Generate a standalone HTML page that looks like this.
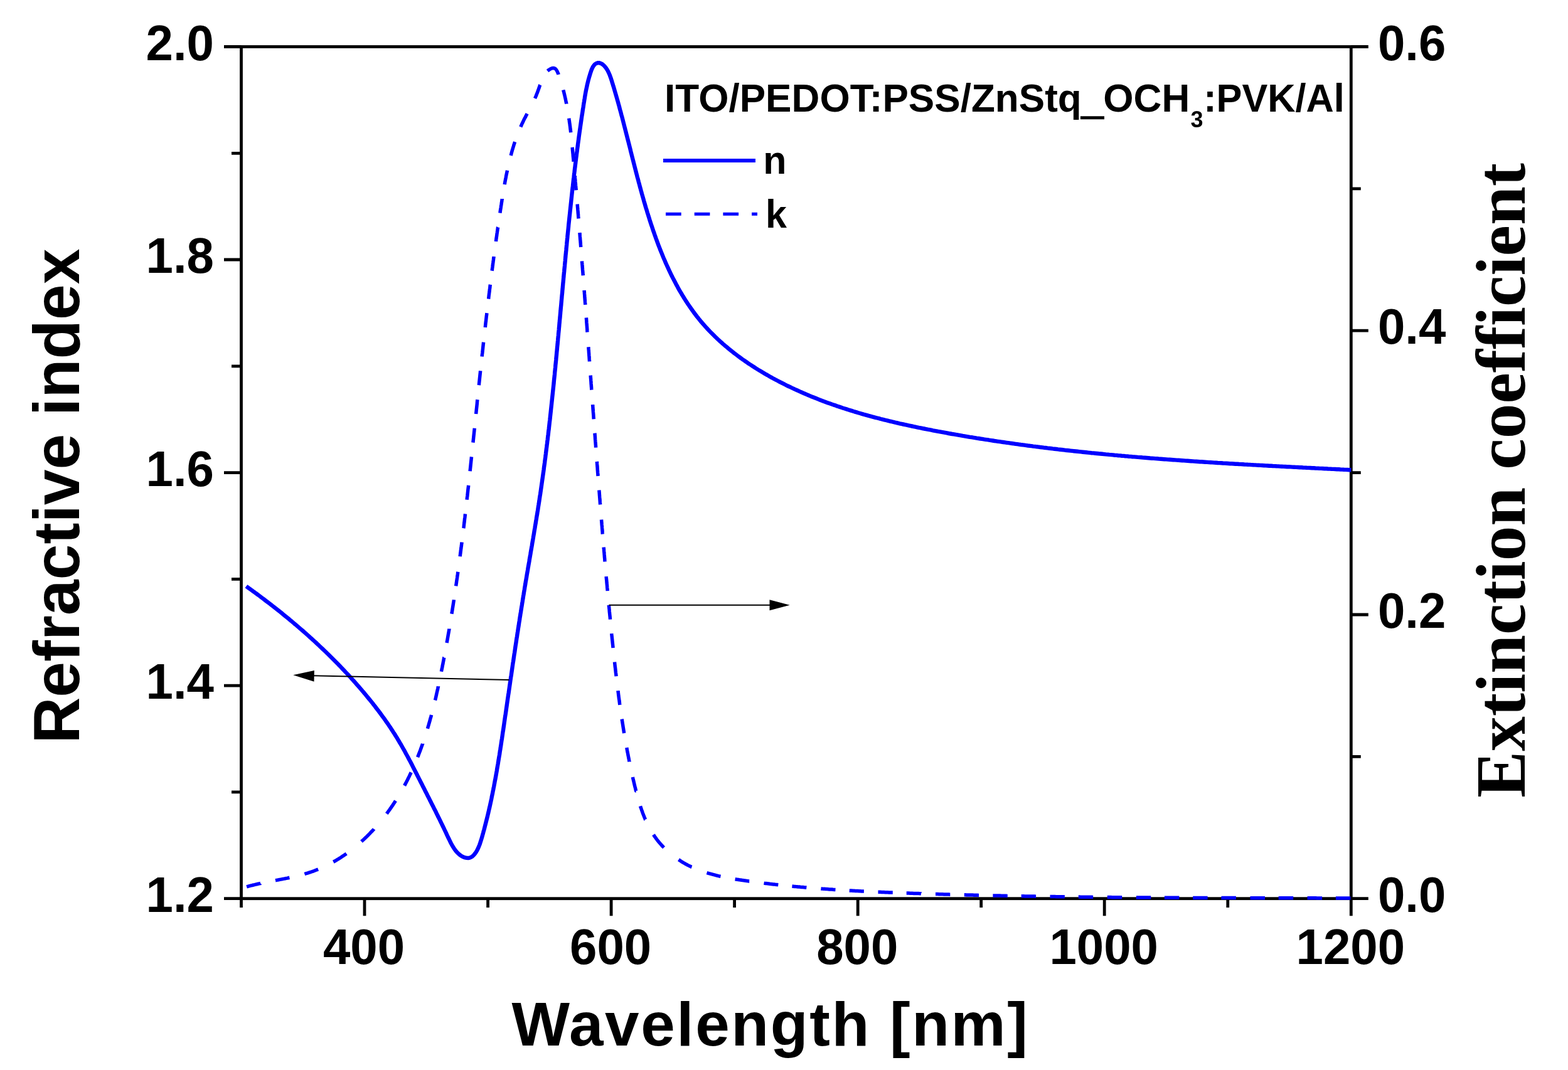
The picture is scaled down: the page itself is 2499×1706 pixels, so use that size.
<!DOCTYPE html>
<html><head><meta charset="utf-8"><title>Refractive index and extinction coefficient</title>
<style>html,body{margin:0;padding:0;background:#fff;overflow:hidden}svg{display:block}</style></head>
<body>
<svg width="2499" height="1706" viewBox="0 0 2499 1706">
<rect width="2499" height="1706" fill="#fff"/>
<g fill="none" stroke="#000" stroke-width="4.8">
<rect x="384.5" y="74.5" width="1768.8" height="1358.2"/>
<path d="M384.5 1432.7V1446.9M581.0 1432.7V1460.2M777.6 1432.7V1446.9M974.1 1432.7V1460.2M1170.6 1432.7V1446.9M1367.2 1432.7V1460.2M1563.7 1432.7V1446.9M1760.2 1432.7V1460.2M1956.8 1432.7V1446.9M2153.3 1432.7V1460.2M384.5 1432.7H357.0M384.5 1262.9H369.0M384.5 1093.2H357.0M384.5 923.4H369.0M384.5 753.6H357.0M384.5 583.8H369.0M384.5 414.0H357.0M384.5 244.3H369.0M384.5 74.5H357.0M2153.3 1432.7H2180.8M2153.3 1206.3H2168.8M2153.3 980.0H2180.8M2153.3 753.6H2168.8M2153.3 527.2H2180.8M2153.3 300.9H2168.8M2153.3 74.5H2180.8"/>
</g>
<path d="M393.1 1413.9L394.8 1413.4L396.6 1412.9L398.4 1412.4L400.3 1411.9L402.1 1411.5L403.9 1411.0L405.8 1410.6L407.6 1410.1L409.5 1409.7L411.3 1409.3L413.2 1408.9L415.1 1408.5L415.2 1408.4M439.0 1403.7L440.6 1403.4L442.3 1403.1L444.1 1402.8L445.8 1402.4L447.5 1402.1L449.3 1401.8L451.0 1401.4L452.7 1401.1L454.5 1400.8L456.2 1400.4L457.9 1400.1L459.6 1399.7L461.4 1399.3L461.4 1399.3M485.4 1393.5L487.2 1392.9L489.0 1392.4L490.9 1391.8L492.8 1391.2L494.6 1390.6L496.4 1390.0L498.3 1389.4L500.1 1388.7L501.9 1388.0L503.7 1387.3L505.5 1386.6L507.1 1386.0M531.3 1374.2L533.0 1373.3L534.6 1372.3L536.3 1371.3L537.9 1370.3L539.6 1369.3L541.2 1368.3L542.9 1367.3L544.5 1366.2L546.1 1365.1L547.7 1364.1L549.3 1363.0L550.9 1361.9L552.1 1361.0M576.0 1341.8L577.6 1340.3L579.4 1338.7L581.1 1337.1L582.7 1335.5L584.4 1333.9L586.1 1332.2L587.7 1330.6L589.4 1328.9L591.0 1327.2L592.6 1325.5L594.2 1323.8L595.8 1322.1L596.0 1321.8M616.2 1297.4L617.4 1295.8L618.7 1294.0L619.9 1292.3L621.2 1290.6L622.4 1288.8L623.6 1287.1L624.8 1285.3L626.0 1283.6L627.2 1281.8L628.4 1280.0L629.5 1278.3L630.5 1276.7M644.6 1252.6L645.4 1251.1L646.3 1249.4L647.2 1247.7L648.1 1246.0L649.0 1244.3L649.8 1242.6L650.7 1240.9L651.5 1239.2L652.4 1237.5L653.2 1235.7L654.0 1234.0L654.8 1232.3L655.2 1231.5M665.6 1207.3L666.2 1205.7L666.9 1203.9L667.6 1202.1L668.3 1200.3L669.0 1198.5L669.7 1196.7L670.3 1194.9L671.0 1193.1L671.6 1191.3L672.3 1189.5L672.9 1187.7L673.6 1185.9L673.6 1185.8M681.4 1161.7L681.9 1160.0L682.4 1158.1L683.0 1156.3L683.5 1154.4L684.1 1152.6L684.6 1150.7L685.1 1148.9L685.6 1147.0L686.1 1145.1L686.7 1143.3L687.2 1141.4L687.6 1139.8M693.5 1116.5L693.9 1114.9L694.3 1113.2L694.7 1111.5L695.1 1109.7L695.5 1108.0L695.8 1106.3L696.2 1104.6L696.6 1102.9L697.0 1101.2L697.4 1099.5L697.8 1097.8L698.1 1096.1L698.5 1094.4L698.5 1094.3M703.4 1070.8L703.7 1069.2L704.1 1067.5L704.4 1065.8L704.8 1064.1L705.1 1062.3L705.4 1060.6L705.8 1058.9L706.1 1057.2L706.4 1055.5L706.8 1053.7L707.1 1052.0L707.4 1050.3L707.7 1048.6L707.8 1048.5M712.1 1025.0L712.4 1023.3L712.7 1021.6L713.0 1019.9L713.3 1018.2L713.6 1016.5L713.9 1014.7L714.2 1013.0L714.5 1011.3L714.8 1009.6L715.1 1007.9L715.4 1006.1L715.7 1004.4L716.0 1002.7L716.0 1002.5M719.9 978.8L720.2 977.1L720.5 975.1L720.8 973.2L721.1 971.3L721.4 969.4L721.7 967.5L722.0 965.6L722.3 963.7L722.6 961.7L722.9 959.8L723.2 957.9L723.4 956.2M726.7 934.4L726.9 932.6L727.2 930.7L727.5 928.8L727.7 926.9L728.0 925.0L728.3 923.1L728.6 921.1L728.8 919.2L729.1 917.3L729.4 915.4L729.6 913.5L729.9 911.7L729.9 911.7M733.2 887.3L733.4 885.5L733.6 883.6L733.9 881.7L734.1 879.7L734.4 877.8L734.6 875.9L734.9 874.0L735.1 872.1L735.4 870.2L735.6 868.2L735.9 866.3L736.1 864.5L736.1 864.5M738.8 842.2L739.1 840.4L739.3 838.5L739.5 836.6L739.7 834.7L740.0 832.8L740.2 830.8L740.4 828.9L740.6 827.0L740.9 825.1L741.1 823.2L741.3 821.2L741.5 819.4L741.5 819.4M744.1 796.8L744.3 795.0L744.5 793.0L744.8 791.1L745.0 789.2L745.2 787.3L745.4 785.4L745.6 783.4L745.8 781.5L746.0 779.6L746.3 777.7L746.5 775.8L746.7 773.9L746.7 773.9M749.1 751.3L749.3 749.4L749.5 747.5L749.7 745.6L749.9 743.7L750.1 741.8L750.3 739.8L750.5 737.9L750.7 736.0L750.9 734.1L751.1 732.2L751.3 730.2L751.5 728.4L751.5 728.4M753.9 705.6L754.1 703.7L754.3 701.8L754.5 699.9L754.7 698.0L754.9 696.0L755.1 694.1L755.3 692.2L755.5 690.3L755.7 688.4L755.9 686.4L756.1 684.5L756.3 682.7L756.3 682.7M758.6 660.0L758.8 658.2L759.0 656.3L759.2 654.3L759.4 652.4L759.6 650.5L759.8 648.6L760.0 646.7L760.2 644.7L760.4 642.8L760.5 640.9L760.7 639.0L760.9 637.1L760.9 637.1M763.3 614.1L763.5 612.2L763.7 610.3L763.9 608.4L764.1 606.5L764.3 604.6L764.5 602.6L764.7 600.7L764.9 598.8L765.1 596.9L765.3 594.9L765.5 593.0L765.7 591.2L765.7 591.2M768.1 568.5L768.3 566.7L768.5 564.8L768.8 562.8L769.0 560.9L769.2 559.0L769.4 557.1L769.6 555.2L769.8 553.2L770.0 551.3L770.2 549.4L770.4 547.5L770.6 545.6L770.6 545.6M773.3 522.0L773.5 520.2L773.7 518.2L773.9 516.3L774.1 514.4L774.4 512.5L774.6 510.5L774.8 508.6L775.0 506.7L775.2 504.8L775.5 502.9L775.7 500.9L775.9 499.1L775.9 499.1M778.6 476.6L778.8 474.8L779.0 472.9L779.2 470.9L779.5 469.0L779.7 467.1L780.0 465.2L780.2 463.2L780.4 461.3L780.7 459.4L780.9 457.5L781.1 455.5L781.4 453.8L781.4 453.8M784.1 431.7L784.4 430.0L784.6 428.0L784.9 426.1L785.1 424.2L785.4 422.3L785.6 420.4L785.9 418.4L786.1 416.5L786.4 414.6L786.6 412.7L786.9 410.7L787.1 409.0L787.1 409.0M790.4 385.0L790.6 383.2L790.8 381.5L791.1 379.8L791.3 378.1L791.6 376.3L791.8 374.6L792.0 372.9L792.3 371.1L792.5 369.4L792.8 367.7L793.0 365.9L793.3 364.2L793.5 362.5L793.6 362.3M796.9 339.7L797.1 338.1L797.4 336.3L797.6 334.6L797.9 332.9L798.2 331.1L798.4 329.4L798.7 327.7L799.0 325.9L799.2 324.2L799.5 322.5L799.8 320.8L800.0 319.0L800.3 317.3L800.3 317.1M804.2 294.1L804.5 292.2L804.8 290.3L805.2 288.4L805.5 286.5L805.9 284.6L806.3 282.7L806.6 280.8L807.0 278.9L807.4 277.0L807.8 275.1L808.2 273.2L808.5 271.7M814.1 248.0L814.6 246.3L815.1 244.4L815.6 242.6L816.1 240.8L816.6 238.9L817.2 237.1L817.7 235.3L818.3 233.5L818.8 231.6L819.4 229.8L820.0 228.0L820.6 226.2L820.6 226.2M829.8 202.4L830.5 200.7L831.3 199.0L832.0 197.3L832.9 195.6L833.7 193.8L834.5 192.1L835.3 190.4L836.2 188.7L837.1 187.1L838.0 185.4L838.8 183.7L839.7 182.0L840.1 181.2M852.5 156.8L853.2 155.3L854.0 153.6L854.7 151.9L855.4 150.1L856.1 148.4L856.8 146.6L857.4 144.8L858.1 143.0L858.7 141.2L859.4 139.3L860.0 137.5L860.6 135.7L860.8 135.3M872.6 113.2L874.1 111.9L875.9 110.7L877.8 109.6L879.8 108.8L881.7 108.5L883.4 108.7L884.9 109.4L886.1 110.6L887.2 112.2L888.2 114.1L889.1 116.2L890.0 118.4L890.1 118.9M897.7 143.3L898.1 144.9L898.6 146.6L899.0 148.3L899.4 150.0L899.8 151.7L900.2 153.4L900.6 155.1L901.0 156.8L901.4 158.5L901.7 160.3L902.1 162.0L902.4 163.7L902.8 165.4L902.8 165.5M906.8 188.6L907.0 190.4L907.3 192.3L907.5 194.2L907.8 196.1L908.1 198.0L908.3 200.0L908.6 201.9L908.8 203.8L909.0 205.7L909.3 207.6L909.5 209.6L909.7 211.3L909.7 211.3M912.1 234.9L912.3 236.7L912.4 238.6L912.6 240.6L912.8 242.5L913.0 244.4L913.2 246.3L913.3 248.3L913.5 250.2L913.7 252.1L913.9 254.1L914.0 256.0L914.2 257.8L914.2 257.8M916.2 280.2L916.4 282.0L916.5 283.9L916.7 285.9L916.9 287.8L917.0 289.7L917.2 291.7L917.4 293.6L917.5 295.5L917.7 297.4L917.9 299.4L918.0 301.3L918.2 303.2L918.2 303.2M920.1 325.5L920.3 327.3L920.4 329.3L920.6 331.2L920.8 333.1L920.9 335.0L921.1 337.0L921.2 338.9L921.4 340.8L921.6 342.8L921.7 344.7L921.9 346.6L922.0 348.5L922.0 348.5M923.9 371.0L924.0 372.8L924.2 374.8L924.3 376.7L924.5 378.6L924.6 380.6L924.8 382.5L925.0 384.4L925.1 386.3L925.3 388.3L925.4 390.2L925.6 392.1L925.7 394.0L925.7 394.0M927.5 416.3L927.6 418.2L927.8 420.1L927.9 422.0L928.1 423.9L928.2 425.9L928.4 427.8L928.5 429.7L928.7 431.7L928.8 433.6L929.0 435.5L929.1 437.4L929.3 439.3L929.3 439.3M931.1 462.8L931.2 464.6L931.4 466.6L931.5 468.5L931.7 470.4L931.8 472.3L931.9 474.3L932.1 476.2L932.2 478.1L932.4 480.1L932.5 482.0L932.7 483.9L932.8 485.8L932.8 485.8M934.4 506.5L934.5 508.4L934.7 510.3L934.8 512.3L934.9 514.2L935.1 516.1L935.2 518.1L935.4 520.0L935.5 521.9L935.7 523.8L935.8 525.8L935.9 527.7L936.1 529.6L936.1 529.6M937.8 553.2L938.0 555.1L938.1 557.0L938.3 558.9L938.4 560.9L938.5 562.8L938.7 564.7L938.8 566.7L939.0 568.6L939.1 570.5L939.2 572.4L939.4 574.4L939.5 576.3L939.5 576.3M941.2 598.5L941.3 600.4L941.4 602.3L941.6 604.3L941.7 606.2L941.9 608.1L942.0 610.1L942.1 612.0L942.3 613.9L942.4 615.9L942.6 617.8L942.7 619.7L942.9 621.6L942.9 621.6M944.6 645.2L944.7 647.1L944.9 649.0L945.0 651.0L945.1 652.9L945.3 654.8L945.4 656.7L945.6 658.7L945.7 660.6L945.9 662.5L946.0 664.5L946.1 666.4L946.3 668.3L946.3 668.3M947.9 690.6L948.1 692.4L948.2 694.4L948.4 696.3L948.5 698.2L948.6 700.2L948.8 702.1L948.9 704.0L949.1 705.9L949.2 707.9L949.4 709.8L949.5 711.7L949.6 713.6L949.6 713.6M951.3 735.9L951.5 737.8L951.6 739.7L951.8 741.6L951.9 743.6L952.1 745.5L952.2 747.4L952.3 749.4L952.5 751.3L952.6 753.2L952.8 755.2L952.9 757.1L953.1 759.0L953.1 759.0M954.8 781.5L955.0 783.3L955.1 785.3L955.3 787.2L955.4 789.1L955.6 791.0L955.7 793.0L955.9 794.9L956.0 796.8L956.2 798.8L956.3 800.7L956.5 802.6L956.6 804.5L956.6 804.5M958.5 828.5L958.7 830.4L958.8 832.3L959.0 834.3L959.1 836.2L959.3 838.1L959.5 840.1L959.6 842.0L959.8 843.9L959.9 845.8L960.1 847.8L960.2 849.7L960.4 851.6L960.4 851.6M962.1 872.5L962.3 874.4L962.5 876.3L962.6 878.2L962.8 880.2L963.0 882.1L963.1 884.0L963.3 886.0L963.4 887.9L963.6 889.8L963.8 891.7L963.9 893.7L964.1 895.5L964.1 895.5M966.2 919.2L966.3 921.0L966.5 923.0L966.7 924.9L966.9 926.8L967.0 928.8L967.2 930.7L967.4 932.6L967.6 934.5L967.7 936.5L967.9 938.4L968.1 940.3L968.2 942.2L968.2 942.2M970.3 964.7L970.5 966.5L970.7 968.4L970.9 970.4L971.1 972.3L971.2 974.2L971.4 976.1L971.6 978.1L971.8 980.0L972.0 981.9L972.2 983.8L972.4 985.8L972.5 987.6L972.5 987.6M974.8 1010.1L974.9 1011.9L975.1 1013.9L975.3 1015.8L975.5 1017.7L975.7 1019.6L975.9 1021.5L976.1 1023.5L976.3 1025.4L976.5 1027.3L976.7 1029.2L976.9 1031.2L977.1 1033.0L977.1 1033.0M979.5 1055.5L979.7 1057.3L979.9 1059.2L980.1 1061.1L980.3 1063.0L980.6 1065.0L980.8 1066.9L981.0 1068.8L981.2 1070.7L981.4 1072.6L981.7 1074.6L981.9 1076.5L982.1 1078.3L982.1 1078.3M984.9 1101.2L985.1 1103.0L985.4 1104.9L985.6 1106.8L985.8 1108.7L986.1 1110.6L986.3 1112.5L986.6 1114.5L986.9 1116.4L987.1 1118.3L987.4 1120.2L987.6 1122.1L987.9 1123.9L987.9 1123.9M991.1 1146.4L991.4 1148.1L991.7 1150.0L992.0 1152.0L992.3 1153.9L992.6 1155.8L992.9 1157.7L993.2 1159.6L993.5 1161.5L993.8 1163.4L994.1 1165.3L994.4 1167.2L994.7 1169.0L994.7 1169.0M998.8 1192.1L999.1 1193.8L999.4 1195.5L999.7 1197.2L1000.0 1198.9L1000.4 1200.6L1000.7 1202.3L1001.0 1204.1L1001.4 1205.8L1001.7 1207.5L1002.0 1209.2L1002.4 1210.9L1002.7 1212.6L1003.1 1214.3L1003.1 1214.5M1008.4 1239.0L1008.7 1240.6L1009.1 1242.3L1009.5 1244.0L1009.9 1245.7L1010.3 1247.4L1010.7 1249.1L1011.1 1250.8L1011.5 1252.5L1011.9 1254.2L1012.4 1255.9L1012.8 1257.6L1013.2 1259.3L1013.6 1261.1L1013.7 1261.1M1020.5 1285.2L1021.0 1286.8L1021.7 1288.7L1022.3 1290.5L1022.9 1292.3L1023.6 1294.1L1024.2 1295.9L1024.9 1297.7L1025.6 1299.5L1026.3 1301.3L1027.0 1303.1L1027.8 1304.9L1028.5 1306.6L1028.6 1306.7M1041.5 1330.8L1042.5 1332.4L1043.7 1334.2L1045.0 1335.9L1046.2 1337.6L1047.5 1339.3L1048.8 1341.0L1050.1 1342.6L1051.5 1344.2L1052.9 1345.8L1054.3 1347.4L1055.8 1349.0L1057.3 1350.6L1058.1 1351.4M1081.5 1370.7L1083.1 1371.7L1084.8 1372.8L1086.4 1373.8L1088.1 1374.9L1089.8 1375.9L1091.5 1376.8L1093.2 1377.8L1094.9 1378.7L1096.6 1379.6L1098.4 1380.5L1100.1 1381.3L1101.9 1382.2L1102.5 1382.4M1126.5 1391.6L1128.2 1392.1L1130.1 1392.7L1131.9 1393.2L1133.8 1393.7L1135.6 1394.2L1137.5 1394.7L1139.4 1395.2L1141.3 1395.7L1143.2 1396.1L1145.0 1396.6L1146.9 1397.0L1148.5 1397.3M1171.6 1401.7L1173.3 1402.0L1175.0 1402.2L1176.7 1402.5L1178.4 1402.8L1180.2 1403.0L1181.9 1403.3L1183.6 1403.6L1185.4 1403.8L1187.1 1404.1L1188.8 1404.3L1190.5 1404.6L1192.3 1404.8L1194.0 1405.1L1194.2 1405.1M1217.5 1408.1L1219.3 1408.4L1221.2 1408.6L1223.2 1408.8L1225.1 1409.0L1227.0 1409.3L1228.9 1409.5L1230.8 1409.7L1232.8 1409.9L1234.7 1410.1L1236.6 1410.4L1238.5 1410.6L1240.3 1410.8L1240.3 1410.8M1262.4 1413.0L1264.3 1413.2L1266.2 1413.4L1268.1 1413.6L1270.1 1413.7L1272.0 1413.9L1273.9 1414.1L1275.8 1414.3L1277.8 1414.4L1279.7 1414.6L1281.6 1414.8L1283.5 1414.9L1285.4 1415.1L1285.4 1415.1M1308.4 1416.9L1310.3 1417.1L1312.2 1417.2L1314.2 1417.3L1316.1 1417.5L1318.0 1417.6L1320.0 1417.7L1321.9 1417.9L1323.8 1418.0L1325.7 1418.1L1327.7 1418.3L1329.6 1418.4L1331.5 1418.5L1331.5 1418.5M1353.7 1419.9L1355.5 1420.0L1357.4 1420.1L1359.3 1420.2L1361.3 1420.3L1363.2 1420.4L1365.1 1420.5L1367.1 1420.6L1369.0 1420.7L1370.9 1420.8L1372.9 1420.9L1374.8 1421.0L1376.7 1421.1L1376.9 1421.1M1399.5 1422.2L1401.3 1422.2L1403.2 1422.3L1405.1 1422.4L1407.1 1422.5L1409.0 1422.6L1410.9 1422.7L1412.9 1422.7L1414.8 1422.8L1416.7 1422.9L1418.7 1423.0L1420.6 1423.0L1422.5 1423.1L1422.8 1423.1M1444.7 1424.0L1446.5 1424.0L1448.5 1424.1L1450.4 1424.2L1452.3 1424.2L1454.3 1424.3L1456.2 1424.4L1458.1 1424.4L1460.1 1424.5L1462.0 1424.6L1463.9 1424.6L1465.9 1424.7L1467.8 1424.7L1468.0 1424.8M1491.0 1425.5L1492.8 1425.5L1494.7 1425.6L1496.6 1425.7L1498.6 1425.7L1500.5 1425.8L1502.4 1425.8L1504.4 1425.9L1506.3 1425.9L1508.2 1426.0L1510.2 1426.1L1512.1 1426.1L1514.0 1426.2L1514.3 1426.2M1536.8 1426.8L1538.6 1426.8L1540.5 1426.9L1542.5 1426.9L1544.4 1427.0L1546.3 1427.0L1548.3 1427.1L1550.2 1427.1L1552.1 1427.2L1554.1 1427.2L1556.0 1427.3L1557.9 1427.3L1559.9 1427.4L1560.1 1427.4M1582.4 1427.9L1584.2 1427.9L1586.2 1428.0L1588.1 1428.0L1590.0 1428.0L1592.0 1428.1L1593.9 1428.1L1595.9 1428.2L1597.8 1428.2L1599.7 1428.2L1601.7 1428.3L1603.6 1428.3L1605.5 1428.4L1605.8 1428.4M1627.7 1428.8L1629.5 1428.8L1631.4 1428.8L1633.4 1428.9L1635.3 1428.9L1637.2 1428.9L1639.2 1429.0L1641.1 1429.0L1643.0 1429.0L1645.0 1429.1L1646.9 1429.1L1648.9 1429.1L1650.8 1429.2L1651.1 1429.2M1673.5 1429.5L1675.4 1429.5L1677.3 1429.6L1679.2 1429.6L1681.2 1429.6L1683.1 1429.7L1685.0 1429.7L1687.0 1429.7L1688.9 1429.7L1690.8 1429.8L1692.8 1429.8L1694.7 1429.8L1696.6 1429.8L1696.9 1429.8M1718.8 1430.1L1720.6 1430.1L1722.5 1430.2L1724.5 1430.2L1726.4 1430.2L1728.4 1430.2L1730.3 1430.2L1732.2 1430.3L1734.2 1430.3L1736.1 1430.3L1738.0 1430.3L1740.0 1430.3L1741.9 1430.4L1742.2 1430.4M1764.8 1430.6L1766.7 1430.6L1768.6 1430.6L1770.5 1430.6L1772.5 1430.7L1774.4 1430.7L1776.3 1430.7L1778.3 1430.7L1780.2 1430.7L1782.1 1430.7L1784.1 1430.7L1786.0 1430.8L1787.9 1430.8L1788.2 1430.8M1810.8 1430.9L1812.7 1431.0L1814.6 1431.0L1816.6 1431.0L1818.5 1431.0L1820.4 1431.0L1822.4 1431.0L1824.3 1431.0L1826.2 1431.0L1828.2 1431.1L1830.1 1431.1L1832.0 1431.1L1834.0 1431.1L1834.3 1431.1M1855.9 1431.2L1857.8 1431.2L1859.7 1431.2L1861.6 1431.2L1863.6 1431.3L1865.5 1431.3L1867.4 1431.3L1869.4 1431.3L1871.3 1431.3L1873.2 1431.3L1875.2 1431.3L1877.1 1431.3L1879.0 1431.3L1879.4 1431.3M1901.2 1431.4L1903.0 1431.4L1905.0 1431.4L1906.9 1431.4L1908.8 1431.4L1910.8 1431.4L1912.7 1431.4L1914.6 1431.5L1916.6 1431.5L1918.5 1431.5L1920.4 1431.5L1922.4 1431.5L1924.3 1431.5L1924.6 1431.5M1946.4 1431.5L1948.3 1431.6L1950.2 1431.6L1952.2 1431.6L1954.1 1431.6L1956.0 1431.6L1958.0 1431.6L1959.9 1431.6L1961.8 1431.6L1963.8 1431.6L1965.7 1431.6L1967.6 1431.6L1969.6 1431.6L1969.9 1431.6M1992.5 1431.7L1994.3 1431.7L1996.3 1431.7L1998.2 1431.7L2000.1 1431.7L2002.1 1431.7L2004.0 1431.7L2006.0 1431.7L2007.9 1431.7L2009.8 1431.7L2011.8 1431.7L2013.7 1431.7L2015.6 1431.7L2016.0 1431.7M2037.7 1431.7L2039.6 1431.7L2041.6 1431.7L2043.5 1431.7L2045.4 1431.8L2047.4 1431.8L2049.3 1431.8L2051.2 1431.8L2053.2 1431.8L2055.1 1431.8L2057.0 1431.8L2059.0 1431.8L2060.9 1431.8L2061.2 1431.8M2083.6 1431.8L2085.5 1431.8L2087.4 1431.8L2089.3 1431.8L2091.3 1431.8L2093.2 1431.8L2095.2 1431.8L2097.1 1431.8L2099.0 1431.9L2101.0 1431.9L2102.9 1431.9L2104.8 1431.9L2106.8 1431.9L2107.1 1431.9M2128.9 1431.9L2130.8 1431.9L2132.7 1431.9L2134.6 1431.9L2136.6 1431.9L2138.5 1431.9L2140.4 1432.0L2142.4 1432.0L2144.3 1432.0L2146.2 1432.0L2148.2 1432.0L2150.1 1432.0L2152.0 1432.0L2152.4 1432.0" fill="none" stroke="#0000ff" stroke-width="5.5" stroke-linejoin="round"/>
<path d="M392.4 934.7L394.7 936.4L397.0 938.1L399.3 939.7L401.6 941.4L403.9 943.1L406.2 944.7L408.5 946.4L410.8 948.1L413.1 949.8L415.3 951.5L417.6 953.2L419.9 954.9L422.1 956.6L424.4 958.4L426.7 960.1L428.9 961.8L431.2 963.5L433.4 965.3L435.6 967.0L437.9 968.8L440.1 970.5L442.3 972.3L444.6 974.1L446.8 975.8L449.0 977.6L451.2 979.4L453.4 981.2L455.6 983.0L457.8 984.8L460.0 986.6L462.2 988.4L464.4 990.2L466.6 992.1L468.7 993.9L470.9 995.7L473.1 997.6L475.2 999.4L477.4 1001.3L479.5 1003.1L481.7 1005.0L483.8 1006.8L485.9 1008.7L488.1 1010.6L490.2 1012.5L492.3 1014.4L494.4 1016.3L496.5 1018.2L498.6 1020.1L500.7 1022.0L502.8 1023.9L504.9 1025.9L507.0 1027.8L509.0 1029.7L511.1 1031.7L513.1 1033.6L515.2 1035.6L517.2 1037.5L519.3 1039.5L521.3 1041.5L523.4 1043.5L525.4 1045.5L527.4 1047.5L529.4 1049.5L531.4 1051.5L533.4 1053.5L535.4 1055.5L537.4 1057.5L539.4 1059.5L541.3 1061.6L543.3 1063.6L545.3 1065.7L547.2 1067.7L549.2 1069.8L551.1 1071.9L553.0 1073.9L555.0 1076.0L556.9 1078.1L558.8 1080.2L560.7 1082.3L562.6 1084.4L564.5 1086.5L566.4 1088.6L568.3 1090.8L570.1 1092.9L572.0 1095.0L573.8 1097.2L575.7 1099.3L577.5 1101.5L579.4 1103.7L581.2 1105.8L583.0 1108.0L584.8 1110.2L586.6 1112.4L588.4 1114.6L590.2 1116.8L592.0 1119.0L593.8 1121.2L595.5 1123.5L597.3 1125.7L599.0 1128.0L600.7 1130.2L602.5 1132.5L604.2 1134.7L605.9 1137.0L607.6 1139.3L609.2 1141.6L610.9 1143.9L612.6 1146.2L614.2 1148.5L615.8 1150.8L617.5 1153.2L619.1 1155.5L620.7 1157.9L622.3 1160.2L623.8 1162.6L625.4 1165.0L626.9 1167.4L628.5 1169.8L630.0 1172.2L631.5 1174.6L633.0 1177.0L634.4 1179.5L635.9 1181.9L637.3 1184.4L638.8 1186.8L640.2 1189.3L641.6 1191.8L643.0 1194.3L644.4 1196.7L645.8 1199.2L647.1 1201.7L648.5 1204.2L649.9 1206.7L651.2 1209.3L652.5 1211.8L653.9 1214.3L655.2 1216.8L656.5 1219.3L657.8 1221.9L659.1 1224.4L660.4 1226.9L661.7 1229.4L663.0 1232.0L664.3 1234.5L665.5 1237.0L666.8 1239.5L668.1 1242.1L669.4 1244.6L670.6 1247.1L671.9 1249.6L673.2 1252.1L674.4 1254.6L675.7 1257.1L677.0 1259.6L678.2 1262.1L679.5 1264.6L680.8 1267.1L682.0 1269.6L683.3 1272.1L684.6 1274.6L685.8 1277.1L687.1 1279.6L688.3 1282.1L689.6 1284.6L690.9 1287.1L692.1 1289.6L693.4 1292.1L694.7 1294.6L695.9 1297.2L697.2 1299.7L698.4 1302.3L699.7 1304.8L701.0 1307.4L702.2 1310.0L703.5 1312.6L704.8 1315.2L706.0 1317.8L707.3 1320.4L708.5 1323.0L709.8 1325.7L711.1 1328.4L712.3 1331.1L713.6 1333.8L714.9 1336.5L716.2 1339.2L717.5 1341.9L718.8 1344.5L720.2 1347.1L721.7 1349.6L723.2 1352.0L724.8 1354.4L726.4 1356.6L728.2 1358.7L730.1 1360.6L732.1 1362.4L734.2 1364.0L736.4 1365.4L738.8 1366.5L741.3 1367.4L743.8 1367.9L746.2 1368.0L748.6 1367.6L750.9 1366.6L753.1 1365.2L755.1 1363.3L756.9 1361.1L758.7 1358.6L760.3 1355.9L761.7 1353.0L763.0 1350.2L764.1 1347.4L765.1 1344.6L766.0 1341.8L766.9 1339.1L767.7 1336.4L768.5 1333.7L769.2 1331.0L770.0 1328.3L770.7 1325.5L771.5 1322.8L772.2 1320.1L772.9 1317.3L773.6 1314.6L774.3 1311.9L775.0 1309.1L775.7 1306.4L776.4 1303.6L777.1 1300.9L777.7 1298.1L778.4 1295.4L779.0 1292.6L779.6 1289.9L780.3 1287.1L780.9 1284.4L781.5 1281.6L782.1 1278.8L782.7 1276.1L783.3 1273.3L783.8 1270.5L784.4 1267.7L785.0 1265.0L785.5 1262.2L786.1 1259.4L786.6 1256.6L787.2 1253.8L787.7 1251.0L788.2 1248.3L788.7 1245.5L789.3 1242.7L789.8 1239.9L790.3 1237.1L790.8 1234.3L791.3 1231.5L791.8 1228.7L792.2 1225.9L792.7 1223.1L793.2 1220.3L793.7 1217.5L794.1 1214.7L794.6 1211.9L795.0 1209.1L795.5 1206.3L796.0 1203.5L796.4 1200.7L796.8 1197.9L797.3 1195.0L797.7 1192.2L798.2 1189.4L798.6 1186.6L799.0 1183.8L799.4 1181.0L799.9 1178.2L800.3 1175.4L800.7 1172.6L801.1 1169.7L801.5 1166.9L802.0 1164.1L802.4 1161.3L802.8 1158.5L803.2 1155.7L803.6 1152.9L804.0 1150.0L804.4 1147.2L804.8 1144.4L805.2 1141.6L805.7 1138.8L806.1 1136.0L806.5 1133.2L806.9 1130.3L807.3 1127.5L807.7 1124.7L808.1 1121.9L808.5 1119.1L808.9 1116.3L809.3 1113.5L809.7 1110.7L810.1 1107.9L810.6 1105.0L811.0 1102.2L811.4 1099.4L811.8 1096.6L812.2 1093.8L812.6 1091.0L813.0 1088.2L813.4 1085.4L813.8 1082.6L814.2 1079.8L814.7 1077.0L815.1 1074.1L815.5 1071.3L815.9 1068.5L816.3 1065.7L816.7 1062.9L817.1 1060.1L817.5 1057.3L818.0 1054.5L818.4 1051.7L818.8 1048.9L819.2 1046.1L819.6 1043.3L820.1 1040.5L820.5 1037.7L820.9 1034.9L821.3 1032.0L821.7 1029.2L822.2 1026.4L822.6 1023.6L823.0 1020.8L823.4 1018.0L823.9 1015.2L824.3 1012.4L824.7 1009.6L825.2 1006.8L825.6 1004.0L826.0 1001.2L826.5 998.4L826.9 995.6L827.3 992.8L827.8 990.0L828.2 987.2L828.6 984.4L829.1 981.6L829.5 978.8L830.0 976.0L830.4 973.2L830.9 970.4L831.3 967.6L831.8 964.8L832.2 962.0L832.7 959.2L833.1 956.4L833.6 953.6L834.0 950.8L834.5 948.0L834.9 945.2L835.4 942.4L835.9 939.5L836.3 936.7L836.8 933.9L837.3 931.1L837.7 928.3L838.2 925.5L838.7 922.7L839.2 919.9L839.6 917.1L840.1 914.3L840.6 911.5L841.1 908.7L841.5 905.9L842.0 903.1L842.5 900.3L843.0 897.5L843.5 894.7L843.9 891.9L844.4 889.1L844.9 886.3L845.4 883.5L845.8 880.7L846.3 877.9L846.8 875.1L847.3 872.3L847.8 869.5L848.2 866.7L848.7 863.9L849.2 861.1L849.7 858.3L850.1 855.5L850.6 852.7L851.1 849.9L851.5 847.1L852.0 844.3L852.5 841.5L852.9 838.7L853.4 835.9L853.9 833.1L854.3 830.3L854.8 827.5L855.2 824.7L855.7 821.9L856.2 819.1L856.6 816.3L857.1 813.5L857.5 810.7L857.9 807.9L858.4 805.0L858.8 802.2L859.3 799.4L859.7 796.6L860.1 793.8L860.5 791.0L861.0 788.2L861.4 785.4L861.8 782.6L862.2 779.8L862.6 777.0L863.0 774.2L863.4 771.4L863.8 768.6L864.2 765.8L864.6 763.0L865.0 760.1L865.4 757.3L865.8 754.5L866.2 751.7L866.6 748.9L866.9 746.1L867.3 743.3L867.7 740.5L868.1 737.7L868.4 734.9L868.8 732.1L869.2 729.2L869.5 726.4L869.9 723.6L870.2 720.8L870.6 718.0L870.9 715.2L871.3 712.4L871.6 709.6L872.0 706.7L872.3 703.9L872.7 701.1L873.0 698.3L873.3 695.5L873.7 692.7L874.0 689.9L874.3 687.0L874.7 684.2L875.0 681.4L875.3 678.6L875.6 675.8L875.9 673.0L876.3 670.1L876.6 667.3L876.9 664.5L877.2 661.7L877.5 658.9L877.8 656.1L878.1 653.2L878.4 650.4L878.7 647.6L879.0 644.8L879.3 642.0L879.6 639.1L879.9 636.3L880.2 633.5L880.5 630.7L880.8 627.8L881.1 625.0L881.4 622.2L881.7 619.4L882.0 616.5L882.3 613.7L882.6 610.9L882.8 608.1L883.1 605.2L883.4 602.4L883.7 599.6L884.0 596.8L884.2 593.9L884.5 591.1L884.8 588.3L885.1 585.5L885.3 582.6L885.6 579.8L885.9 577.0L886.2 574.1L886.4 571.3L886.7 568.5L887.0 565.7L887.2 562.8L887.5 560.0L887.8 557.2L888.0 554.3L888.3 551.5L888.6 548.7L888.8 545.9L889.1 543.0L889.3 540.2L889.6 537.4L889.9 534.5L890.1 531.7L890.4 528.9L890.7 526.0L890.9 523.2L891.2 520.4L891.4 517.5L891.7 514.7L891.9 511.9L892.2 509.0L892.5 506.2L892.7 503.4L893.0 500.6L893.2 497.7L893.5 494.9L893.7 492.1L894.0 489.2L894.3 486.4L894.5 483.6L894.8 480.7L895.0 477.9L895.3 475.1L895.5 472.2L895.8 469.4L896.1 466.6L896.3 463.7L896.6 460.9L896.8 458.1L897.1 455.2L897.3 452.4L897.6 449.6L897.9 446.7L898.1 443.9L898.4 441.1L898.6 438.2L898.9 435.4L899.2 432.6L899.4 429.8L899.7 426.9L900.0 424.1L900.2 421.3L900.5 418.4L900.8 415.6L901.0 412.8L901.3 409.9L901.5 407.1L901.8 404.3L902.1 401.4L902.4 398.6L902.6 395.8L902.9 393.0L903.2 390.1L903.4 387.3L903.7 384.5L904.0 381.6L904.3 378.8L904.5 376.0L904.8 373.2L905.1 370.3L905.4 367.5L905.7 364.7L906.0 361.9L906.2 359.0L906.5 356.2L906.8 353.4L907.1 350.6L907.4 347.7L907.7 344.9L908.0 342.1L908.3 339.3L908.6 336.4L908.9 333.6L909.2 330.8L909.5 328.0L909.8 325.1L910.1 322.3L910.4 319.5L910.7 316.7L911.0 313.9L911.3 311.0L911.6 308.2L911.9 305.4L912.2 302.6L912.5 299.8L912.9 296.9L913.2 294.1L913.5 291.3L913.8 288.5L914.1 285.7L914.5 282.9L914.8 280.0L915.1 277.2L915.5 274.4L915.8 271.6L916.1 268.8L916.5 266.0L916.8 263.2L917.2 260.3L917.5 257.5L917.9 254.7L918.2 251.9L918.6 249.1L918.9 246.3L919.3 243.5L919.7 240.7L920.0 237.9L920.4 235.1L920.8 232.3L921.1 229.5L921.5 226.6L921.9 223.8L922.3 221.0L922.6 218.2L923.0 215.4L923.4 212.6L923.8 209.8L924.2 207.0L924.6 204.2L925.0 201.4L925.4 198.6L925.8 195.8L926.2 193.0L926.6 190.2L927.0 187.4L927.4 184.6L927.9 181.9L928.3 179.1L928.7 176.3L929.1 173.5L929.6 170.7L930.0 167.9L930.4 165.1L930.9 162.3L931.3 159.5L931.8 156.7L932.2 153.9L932.7 151.1L933.2 148.3L933.7 145.5L934.3 142.7L934.9 139.9L935.5 137.0L936.1 134.2L936.8 131.3L937.5 128.4L938.3 125.5L939.1 122.6L940.0 119.7L940.9 116.7L941.9 113.8L942.9 110.9L944.1 108.3L945.4 105.8L946.9 103.8L948.6 102.1L950.5 100.9L952.5 100.2L954.8 100.2L957.0 100.8L959.3 101.9L961.4 103.5L963.5 105.5L965.3 107.7L966.9 110.0L968.4 112.4L969.7 115.0L970.9 117.6L972.0 120.3L973.0 123.1L974.0 125.9L974.9 128.7L975.7 131.5L976.6 134.3L977.4 137.1L978.3 139.8L979.1 142.6L979.9 145.3L980.7 148.1L981.5 150.8L982.3 153.6L983.1 156.3L983.8 159.0L984.6 161.7L985.4 164.5L986.1 167.2L986.9 169.9L987.6 172.7L988.3 175.4L989.1 178.1L989.8 180.8L990.5 183.6L991.3 186.3L992.0 189.0L992.7 191.8L993.4 194.5L994.1 197.2L994.8 200.0L995.5 202.7L996.2 205.4L996.9 208.2L997.6 210.9L998.3 213.7L999.0 216.4L999.7 219.1L1000.4 221.9L1001.1 224.6L1001.8 227.3L1002.5 230.1L1003.2 232.8L1003.9 235.5L1004.6 238.3L1005.2 241.0L1005.9 243.8L1006.6 246.5L1007.3 249.2L1008.0 252.0L1008.7 254.7L1009.4 257.4L1010.1 260.2L1010.8 262.9L1011.5 265.7L1012.2 268.4L1012.9 271.1L1013.6 273.9L1014.3 276.6L1015.0 279.3L1015.7 282.1L1016.5 284.8L1017.2 287.5L1017.9 290.3L1018.7 293.0L1019.4 295.7L1020.1 298.5L1020.9 301.2L1021.6 303.9L1022.4 306.7L1023.1 309.4L1023.9 312.1L1024.7 314.8L1025.5 317.6L1026.2 320.3L1027.0 323.0L1027.8 325.7L1028.6 328.5L1029.4 331.2L1030.3 333.9L1031.1 336.6L1031.9 339.4L1032.8 342.1L1033.6 344.8L1034.5 347.5L1035.3 350.2L1036.2 353.0L1037.1 355.7L1038.0 358.4L1038.9 361.1L1039.8 363.8L1040.7 366.5L1041.6 369.2L1042.6 371.9L1043.5 374.6L1044.5 377.3L1045.4 380.0L1046.4 382.7L1047.4 385.4L1048.4 388.1L1049.4 390.8L1050.4 393.4L1051.5 396.1L1052.5 398.8L1053.6 401.4L1054.7 404.1L1055.7 406.7L1056.8 409.4L1057.9 412.0L1059.1 414.6L1060.2 417.3L1061.3 419.9L1062.5 422.5L1063.7 425.1L1064.9 427.7L1066.1 430.3L1067.3 432.8L1068.5 435.4L1069.7 438.0L1071.0 440.5L1072.3 443.1L1073.6 445.6L1074.9 448.1L1076.2 450.6L1077.5 453.1L1078.9 455.6L1080.2 458.1L1081.6 460.6L1083.0 463.1L1084.4 465.5L1085.9 467.9L1087.3 470.4L1088.8 472.8L1090.3 475.2L1091.8 477.6L1093.3 480.0L1094.8 482.3L1096.4 484.7L1098.0 487.0L1099.6 489.3L1101.2 491.6L1102.8 493.9L1104.4 496.2L1106.1 498.5L1107.8 500.7L1109.5 503.0L1111.2 505.2L1113.0 507.4L1114.7 509.6L1116.5 511.8L1118.3 513.9L1120.2 516.1L1122.0 518.2L1123.9 520.3L1125.8 522.4L1127.7 524.5L1129.6 526.5L1131.6 528.6L1133.5 530.6L1135.5 532.6L1137.5 534.6L1139.5 536.6L1141.6 538.5L1143.6 540.5L1145.7 542.4L1147.8 544.3L1149.9 546.2L1152.0 548.1L1154.1 549.9L1156.3 551.8L1158.5 553.6L1160.7 555.4L1162.9 557.2L1165.1 559.0L1167.3 560.8L1169.5 562.6L1171.8 564.3L1174.1 566.0L1176.3 567.7L1178.6 569.4L1180.9 571.1L1183.2 572.8L1185.6 574.4L1187.9 576.0L1190.3 577.7L1192.6 579.3L1195.0 580.9L1197.4 582.4L1199.8 584.0L1202.2 585.5L1204.6 587.1L1207.0 588.6L1209.4 590.1L1211.9 591.6L1214.3 593.0L1216.8 594.5L1219.2 596.0L1221.7 597.4L1224.2 598.8L1226.6 600.2L1229.1 601.6L1231.6 603.0L1234.1 604.3L1236.6 605.7L1239.2 607.0L1241.7 608.3L1244.2 609.6L1246.7 610.9L1249.3 612.2L1251.8 613.5L1254.4 614.8L1256.9 616.0L1259.5 617.2L1262.1 618.5L1264.6 619.7L1267.2 620.9L1269.8 622.0L1272.4 623.2L1275.0 624.4L1277.6 625.5L1280.2 626.7L1282.8 627.8L1285.4 628.9L1288.0 630.0L1290.6 631.1L1293.2 632.2L1295.9 633.2L1298.5 634.3L1301.1 635.3L1303.8 636.4L1306.4 637.4L1309.1 638.4L1311.7 639.4L1314.4 640.4L1317.0 641.4L1319.7 642.4L1322.3 643.3L1325.0 644.3L1327.7 645.2L1330.4 646.1L1333.0 647.1L1335.7 648.0L1338.4 648.9L1341.1 649.8L1343.8 650.7L1346.5 651.5L1349.2 652.4L1351.9 653.3L1354.6 654.1L1357.3 654.9L1360.0 655.8L1362.7 656.6L1365.4 657.4L1368.1 658.2L1370.8 659.0L1373.6 659.8L1376.3 660.6L1379.0 661.3L1381.8 662.1L1384.5 662.9L1387.2 663.6L1390.0 664.4L1392.7 665.1L1395.4 665.8L1398.2 666.5L1400.9 667.2L1403.7 668.0L1406.4 668.6L1409.2 669.3L1411.9 670.0L1414.7 670.7L1417.4 671.4L1420.2 672.0L1423.0 672.7L1425.7 673.3L1428.5 674.0L1431.3 674.6L1434.0 675.3L1436.8 675.9L1439.6 676.5L1442.4 677.1L1445.1 677.7L1447.9 678.3L1450.7 678.9L1453.5 679.5L1456.2 680.1L1459.0 680.7L1461.8 681.3L1464.6 681.9L1467.4 682.4L1470.2 683.0L1472.9 683.5L1475.7 684.1L1478.5 684.7L1481.3 685.2L1484.1 685.7L1486.9 686.3L1489.7 686.8L1492.5 687.3L1495.3 687.9L1498.1 688.4L1500.9 688.9L1503.7 689.4L1506.5 689.9L1509.2 690.4L1512.0 691.0L1514.8 691.5L1517.6 692.0L1520.4 692.4L1523.2 692.9L1526.0 693.4L1528.8 693.9L1531.6 694.4L1534.4 694.9L1537.2 695.3L1540.0 695.8L1542.8 696.3L1545.6 696.8L1548.4 697.2L1551.2 697.7L1554.0 698.1L1556.8 698.6L1559.6 699.0L1562.5 699.5L1565.3 699.9L1568.1 700.4L1570.9 700.8L1573.7 701.2L1576.5 701.7L1579.3 702.1L1582.1 702.5L1584.9 703.0L1587.7 703.4L1590.5 703.8L1593.3 704.2L1596.1 704.6L1598.9 705.0L1601.7 705.4L1604.6 705.8L1607.4 706.2L1610.2 706.6L1613.0 707.0L1615.8 707.4L1618.6 707.8L1621.4 708.2L1624.2 708.6L1627.0 709.0L1629.9 709.3L1632.7 709.7L1635.5 710.1L1638.3 710.5L1641.1 710.8L1643.9 711.2L1646.7 711.6L1649.6 711.9L1652.4 712.3L1655.2 712.6L1658.0 713.0L1660.8 713.3L1663.6 713.7L1666.5 714.0L1669.3 714.4L1672.1 714.7L1674.9 715.0L1677.7 715.4L1680.5 715.7L1683.4 716.0L1686.2 716.4L1689.0 716.7L1691.8 717.0L1694.6 717.3L1697.5 717.7L1700.3 718.0L1703.1 718.3L1705.9 718.6L1708.7 718.9L1711.6 719.2L1714.4 719.5L1717.2 719.8L1720.0 720.1L1722.8 720.4L1725.7 720.7L1728.5 721.0L1731.3 721.3L1734.1 721.6L1737.0 721.9L1739.8 722.2L1742.6 722.4L1745.4 722.7L1748.3 723.0L1751.1 723.3L1753.9 723.5L1756.7 723.8L1759.6 724.1L1762.4 724.4L1765.2 724.6L1768.0 724.9L1770.9 725.1L1773.7 725.4L1776.5 725.7L1779.3 725.9L1782.2 726.2L1785.0 726.4L1787.8 726.7L1790.7 726.9L1793.5 727.2L1796.3 727.4L1799.1 727.7L1802.0 727.9L1804.8 728.2L1807.6 728.4L1810.5 728.6L1813.3 728.9L1816.1 729.1L1818.9 729.3L1821.8 729.6L1824.6 729.8L1827.4 730.0L1830.3 730.2L1833.1 730.5L1835.9 730.7L1838.8 730.9L1841.6 731.1L1844.4 731.3L1847.3 731.6L1850.1 731.8L1852.9 732.0L1855.7 732.2L1858.6 732.4L1861.4 732.6L1864.2 732.8L1867.1 733.0L1869.9 733.2L1872.7 733.4L1875.6 733.6L1878.4 733.8L1881.2 734.0L1884.1 734.2L1886.9 734.4L1889.7 734.6L1892.6 734.8L1895.4 735.0L1898.2 735.2L1901.1 735.4L1903.9 735.6L1906.7 735.8L1909.6 736.0L1912.4 736.2L1915.2 736.3L1918.1 736.5L1920.9 736.7L1923.7 736.9L1926.6 737.1L1929.4 737.2L1932.2 737.4L1935.1 737.6L1937.9 737.8L1940.8 738.0L1943.6 738.1L1946.4 738.3L1949.3 738.5L1952.1 738.6L1954.9 738.8L1957.8 739.0L1960.6 739.2L1963.4 739.3L1966.3 739.5L1969.1 739.7L1971.9 739.8L1974.8 740.0L1977.6 740.1L1980.4 740.3L1983.3 740.5L1986.1 740.6L1988.9 740.8L1991.8 740.9L1994.6 741.1L1997.5 741.3L2000.3 741.4L2003.1 741.6L2006.0 741.7L2008.8 741.9L2011.6 742.0L2014.5 742.2L2017.3 742.4L2020.1 742.5L2023.0 742.7L2025.8 742.8L2028.6 743.0L2031.5 743.1L2034.3 743.3L2037.2 743.4L2040.0 743.6L2042.8 743.7L2045.7 743.9L2048.5 744.0L2051.3 744.2L2054.2 744.3L2057.0 744.4L2059.8 744.6L2062.7 744.7L2065.5 744.9L2068.3 745.0L2071.2 745.2L2074.0 745.3L2076.8 745.5L2079.7 745.6L2082.5 745.8L2085.3 745.9L2088.2 746.0L2091.0 746.2L2093.8 746.3L2096.7 746.5L2099.5 746.6L2102.4 746.8L2105.2 746.9L2108.0 747.0L2110.9 747.2L2113.7 747.3L2116.5 747.5L2119.4 747.6L2122.2 747.8L2125.0 747.9L2127.9 748.0L2130.7 748.2L2133.5 748.3L2136.4 748.5L2139.2 748.6L2142.0 748.8L2144.9 748.9L2147.7 749.0L2150.5 749.2L2153.4 749.3" fill="none" stroke="#0000ff" stroke-width="6.4" stroke-linejoin="round"/>
<g fill="none" stroke="#0000ff">
<path d="M1057 256H1204" stroke-width="6"/>
<path d="M1061 341.3H1207" stroke-width="5" stroke-dasharray="24.7 21"/>
</g>
<g stroke="#000" stroke-width="2" fill="none">
<path d="M811.3 1084L498 1077.3"/>
<path d="M970.5 964.7H1228"/>
</g>
<g fill="#000">
<path d="M467.2 1076.2L500.9 1068.9L500.5 1086.8Z"/>
<path d="M1258.7 964.7L1226.5 956.3V973.2Z"/>
</g>
<g fill="#000">
<text transform="translate(341.0 1453.7) scale(1 1.03)" font-family='"Liberation Sans", Arial, sans-serif' font-weight="bold" font-size="78" text-anchor="end" >1.2</text>
<text transform="translate(341.0 1114.2) scale(1 1.03)" font-family='"Liberation Sans", Arial, sans-serif' font-weight="bold" font-size="78" text-anchor="end" >1.4</text>
<text transform="translate(341.0 774.6) scale(1 1.03)" font-family='"Liberation Sans", Arial, sans-serif' font-weight="bold" font-size="78" text-anchor="end" >1.6</text>
<text transform="translate(341.0 435.0) scale(1 1.03)" font-family='"Liberation Sans", Arial, sans-serif' font-weight="bold" font-size="78" text-anchor="end" >1.8</text>
<text transform="translate(341.0 95.5) scale(1 1.03)" font-family='"Liberation Sans", Arial, sans-serif' font-weight="bold" font-size="78" text-anchor="end" >2.0</text>
<text transform="translate(2196.0 1453.7) scale(1 1.03)" font-family='"Liberation Sans", Arial, sans-serif' font-weight="bold" font-size="78" text-anchor="start" >0.0</text>
<text transform="translate(2196.0 1001.0) scale(1 1.03)" font-family='"Liberation Sans", Arial, sans-serif' font-weight="bold" font-size="78" text-anchor="start" >0.2</text>
<text transform="translate(2196.0 548.2) scale(1 1.03)" font-family='"Liberation Sans", Arial, sans-serif' font-weight="bold" font-size="78" text-anchor="start" >0.4</text>
<text transform="translate(2196.0 95.5) scale(1 1.03)" font-family='"Liberation Sans", Arial, sans-serif' font-weight="bold" font-size="78" text-anchor="start" >0.6</text>
<text transform="translate(580.0 1536.5) scale(1 1.03)" font-family='"Liberation Sans", Arial, sans-serif' font-weight="bold" font-size="78" text-anchor="middle" >400</text>
<text transform="translate(973.1 1536.5) scale(1 1.03)" font-family='"Liberation Sans", Arial, sans-serif' font-weight="bold" font-size="78" text-anchor="middle" >600</text>
<text transform="translate(1366.2 1536.5) scale(1 1.03)" font-family='"Liberation Sans", Arial, sans-serif' font-weight="bold" font-size="78" text-anchor="middle" >800</text>
<text transform="translate(1759.2 1536.5) scale(1 1.03)" font-family='"Liberation Sans", Arial, sans-serif' font-weight="bold" font-size="78" text-anchor="middle" >1000</text>
<text transform="translate(2152.3 1536.5) scale(1 1.03)" font-family='"Liberation Sans", Arial, sans-serif' font-weight="bold" font-size="78" text-anchor="middle" >1200</text>
<text transform="translate(126.1 1185.5) rotate(-90) scale(1 1.02)" font-family='"Liberation Sans", Arial, sans-serif' font-weight="bold" font-size="102" textLength="789" lengthAdjust="spacingAndGlyphs">Refractive index</text>
<text transform="translate(2430 1272) rotate(-90)" font-family='"Liberation Serif", "Times New Roman", serif' font-weight="bold" font-size="111.4" textLength="1012" lengthAdjust="spacingAndGlyphs">Extinction coefficient</text>
<text transform="translate(815.5 1666.8) scale(1 1.0)" font-family='"Liberation Sans", Arial, sans-serif' font-weight="bold" font-size="98" textLength="822.5" lengthAdjust="spacing">Wavelength [nm]</text>
<text transform="translate(1059.1 178) scale(1 1.03)" font-family='"Liberation Sans", Arial, sans-serif' font-weight="bold" font-size="62" textLength="837.2" lengthAdjust="spacingAndGlyphs">ITO/PEDOT:PSS/ZnStq<tspan dy="3" stroke="#000" stroke-width="2.4">_</tspan><tspan dy="-3">OCH</tspan></text>
<text transform="translate(1897.6 202.5)" font-family='"Liberation Sans", Arial, sans-serif' font-weight="bold" font-size="36">3</text>
<text transform="translate(1918.2 178) scale(1 1.03)" font-family='"Liberation Sans", Arial, sans-serif' font-weight="bold" font-size="62" textLength="224.6" lengthAdjust="spacingAndGlyphs">:PVK/Al</text>
<text transform="translate(1216.3 276.8) scale(1 1.03)" font-family='"Liberation Sans", Arial, sans-serif' font-weight="bold" font-size="61" text-anchor="start" >n</text>
<text transform="translate(1220.0 362.8) scale(1 1.03)" font-family='"Liberation Sans", Arial, sans-serif' font-weight="bold" font-size="61" text-anchor="start" >k</text>
</g>
</svg>
</body></html>
